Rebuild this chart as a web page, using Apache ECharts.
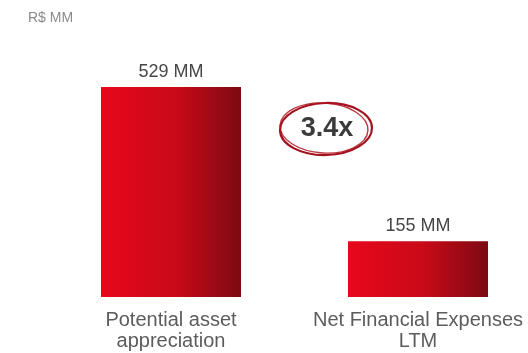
<!DOCTYPE html>
<html>
<head>
<meta charset="utf-8">
<script src="https://cdn.jsdelivr.net/npm/echarts@6/dist/echarts.min.js"></script>
<style>
  html, body { margin: 0; padding: 0; background: #ffffff; }
  #chart { width: 528px; height: 353px; }
</style>
</head>
<body>
<div id="chart"></div>
<script>
// Categories and values (R$ MM)
const categories = ['Potential asset\nappreciation', 'Net Financial Expenses\nLTM'];
const values = [529, 155];
const unitLabel = 'R$ MM';
const ratioLabel = '3.4x';

const FONT = '"Liberation Sans", Arial, sans-serif';

const barGradient = new echarts.graphic.LinearGradient(0, 0, 1, 0, [
  { offset: 0, color: '#e8071b' },
  { offset: 0.55, color: '#c70a18' },
  { offset: 1, color: '#7c0a12' }
]);

const chart = echarts.init(document.getElementById('chart'), null, { renderer: 'canvas' });

chart.setOption({
  backgroundColor: '#ffffff',
  animation: false,
  // categories sit on the grid edges, so the grid spans bar centre to bar centre
  grid: { left: 171, right: 110, top: 87, bottom: 56, containLabel: false },
  xAxis: {
    type: 'category',
    data: categories,
    boundaryGap: false,
    axisLine: { show: false },
    axisTick: { show: false },
    axisLabel: {
      interval: 0,
      margin: 13,
      fontFamily: FONT,
      fontSize: 20,
      lineHeight: 21,
      color: '#5c5c5c',
      align: 'center'
    }
  },
  yAxis: {
    type: 'value',
    min: 20,
    max: 529,
    show: false,
    splitLine: { show: false }
  },
  series: [{
    type: 'bar',
    data: values,
    barWidth: 140,
    itemStyle: { color: barGradient },
    label: {
      show: true,
      position: 'top',
      distance: 6,
      fontFamily: FONT,
      fontSize: 18,
      color: '#474747',
      formatter: p => p.value + ' MM'
    }
  }],
  graphic: [
    {
      type: 'text',
      left: 28,
      top: 11,
      style: { text: unitLabel, font: '14px ' + FONT, fill: '#8a8a8a' }
    },
    // hand-drawn ring around the ratio
    {
      type: 'ellipse',
      shape: { cx: 326, cy: 129, rx: 46, ry: 26 },
      rotation: 0.03,
      originX: 326, originY: 129,
      style: { fill: 'none', stroke: '#a3121f', lineWidth: 2.2 }
    },
    {
      type: 'ellipse',
      shape: { cx: 324, cy: 128, rx: 44, ry: 25 },
      rotation: -0.06,
      originX: 324, originY: 128,
      style: { fill: 'none', stroke: '#b0141f', lineWidth: 1.4, opacity: 0.85 }
    },
    {
      type: 'text',
      x: 327,
      y: 129,
      style: {
        text: ratioLabel,
        font: 'bold 27px ' + FONT,
        fill: '#3b3b3b',
        align: 'center',
        verticalAlign: 'middle'
      }
    }
  ]
});
</script>
</body>
</html>
